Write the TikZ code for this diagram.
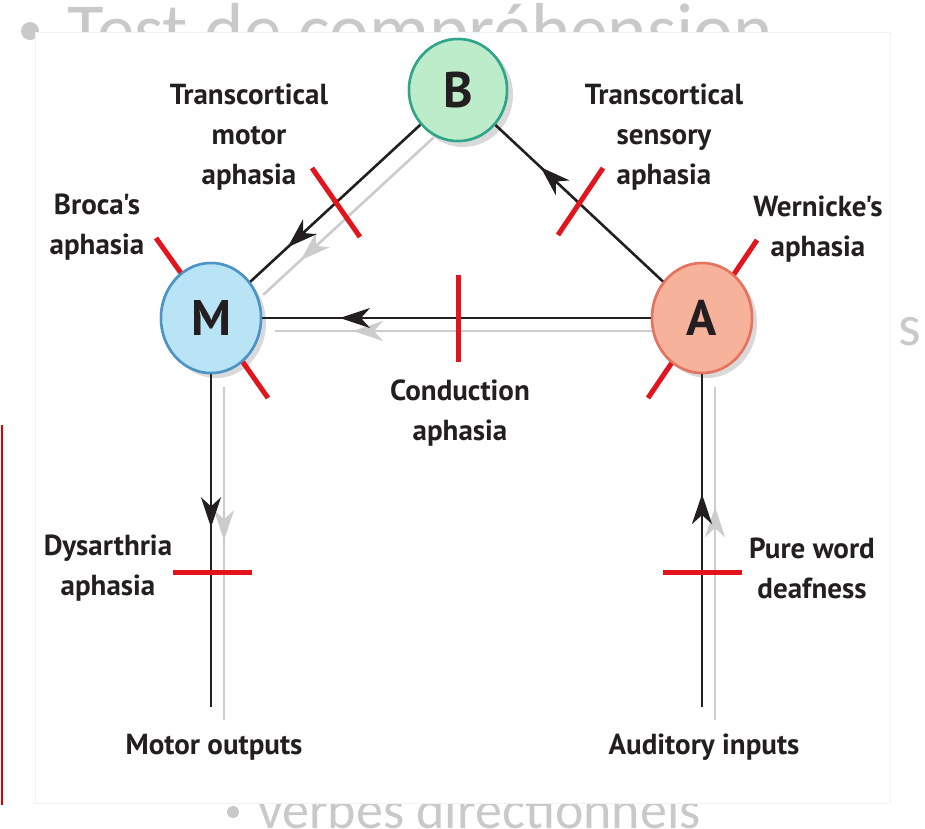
\documentclass[tikz,border=0pt]{standalone}
\usepackage{fontspec}
\newfontfamily\labfont{PT Sans}
\newfontfamily\slidefont{Carlito}
\usetikzlibrary{arrows.meta,decorations.markings,shapes.geometric}
\definecolor{slidegray}{HTML}{C9C9C9}
\definecolor{barred}{HTML}{E3141C}
\definecolor{labcol}{HTML}{231F20}
\definecolor{bfill}{HTML}{BDECCB}
\definecolor{bdraw}{HTML}{2FA58A}
\definecolor{mfill}{HTML}{B8E4F6}
\definecolor{mdraw}{HTML}{4B94C4}
\definecolor{afill}{HTML}{F7B29C}
\definecolor{adraw}{HTML}{E5735F}
\definecolor{shadcol}{HTML}{CCCCCC}
\tikzset{
  slidetext/.style={text=slidegray, inner sep=0, font=\slidefont},
  lab/.style={text=labcol, align=center, inner sep=0,
    font=\labfont\bfseries\fontsize{29}{40}\selectfont},
  conn/.style={line width=2.6pt, draw=labcol},
  shad/.style={line width=2.6pt, draw=shadcol},
  midarrow/.style={postaction={decorate}, decoration={markings,
    mark=at position #1 with {\arrow{Stealth[length=30pt,width=20pt,inset=9pt]}}}},
  rbar/.style={line width=5pt, draw=barred},
  brain/.style={ellipse, inner sep=0, line width=2.5pt,
    minimum width=100pt, minimum height=110pt,
    font=\labfont\bfseries\fontsize{50}{52}\selectfont, text=labcol},
  cshadow/.style={ellipse, inner sep=0, fill=black!15,
    minimum width=100pt, minimum height=110pt},
}
\begin{document}
\begin{tikzpicture}[x=1pt,y=-1pt]
\useasboundingbox (0,0) rectangle (925,828);
\fill[white] (0,0) rectangle (925,828);
% slide background text
\node[circle, fill=slidegray, minimum size=18pt, inner sep=0] (bul1) at (30,31) {};
\node[slidetext, anchor=base west] (t1) at (67,55) {\fontsize{75}{80}\selectfont Test de compréhension};
\node[circle, fill=slidegray, minimum size=12pt, inner sep=0] (bul2) at (233,812) {};
\node[slidetext, anchor=base west] (t2) at (258,828) {\fontsize{54}{56}\selectfont verbes directionnels};
\node[slidetext, anchor=base west] (t3) at (898,345) {\fontsize{58}{60}\selectfont s};
% figure panel
\filldraw[fill=white, draw=black!5, line width=1pt] (35,32) rectangle (890,803);
\draw[red!85!black, line width=2.5pt] (2,425) -- (2,805);
% nodes (positions)
\coordinate (mout) at (211,707);
\coordinate (ain) at (702,707);
\node[cshadow, minimum height=104pt] (Bs) at (463,95) {};
\node[cshadow] (Ms) at (216,323) {};
\node[cshadow] (As) at (707,323) {};
\node[brain, fill=bfill, draw=bdraw, minimum width=98pt, minimum height=102pt] (B) at (458,90) {B};
\node[brain, fill=mfill, draw=mdraw] (M) at (211,318) {M};
\node[brain, fill=afill, draw=adraw] (A) at (702,318) {A};
% shadow lines
\begin{scope}[transform canvas={shift={(13,13)}}]
  \draw[shad, midarrow=0.78] (B) -- (M);
  \draw[shad, midarrow=0.80] (A) -- (M);
  \draw[shad, midarrow=0.46] (M) -- (mout);
  \draw[shad, midarrow=0.64] (ain) -- (A);
\end{scope}
% connectors
\draw[conn, midarrow=0.78] (B) -- (M);
\draw[conn, midarrow=0.73] (A) -- (B);
\draw[conn, midarrow=0.80] (A) -- (M);
\draw[conn, midarrow=0.46] (M) -- (mout);
\draw[conn, midarrow=0.64] (ain) -- (A);
% lesion bars
\draw[rbar] (312,168) -- (360,237);
\draw[rbar] (156,238) -- (186,280);
\draw[rbar] (268,398) -- (240,358);
\draw[rbar] (458,275) -- (458,362);
\draw[rbar] (603,168) -- (558,235);
\draw[rbar] (757,240) -- (728,283);
\draw[rbar] (648,398) -- (675,358);
\draw[rbar] (173,572) -- (252,572);
\draw[rbar] (663,572) -- (742,572);
% redraw circles on top of bars
\node[brain, fill=bfill, draw=bdraw, minimum width=98pt, minimum height=102pt] (B2) at (B) {B};
\node[brain, fill=mfill, draw=mdraw] (M2) at (M) {M};
\node[brain, fill=afill, draw=adraw] (A2) at (A) {A};
% labels
\node[lab] (tcm) at (249,137) {Transcortical\\motor\\aphasia};
\node[lab] (bro) at (97,227) {Broca's\\aphasia};
\node[lab] (tcs) at (664,137) {Transcortical\\sensory\\aphasia};
\node[lab] (wer) at (818,229) {Wernicke's\\aphasia};
\node[lab] (con) at (460,413) {Conduction\\aphasia};
\node[lab] (dys) at (108,568) {Dysarthria\\aphasia};
\node[lab] (pwd) at (812,568) {Pure word\\deafness};
\node[lab] (mo) at (214,747) {Motor outputs};
\node[lab] (ai) at (704,747) {Auditory inputs};
\end{tikzpicture}
\end{document}
